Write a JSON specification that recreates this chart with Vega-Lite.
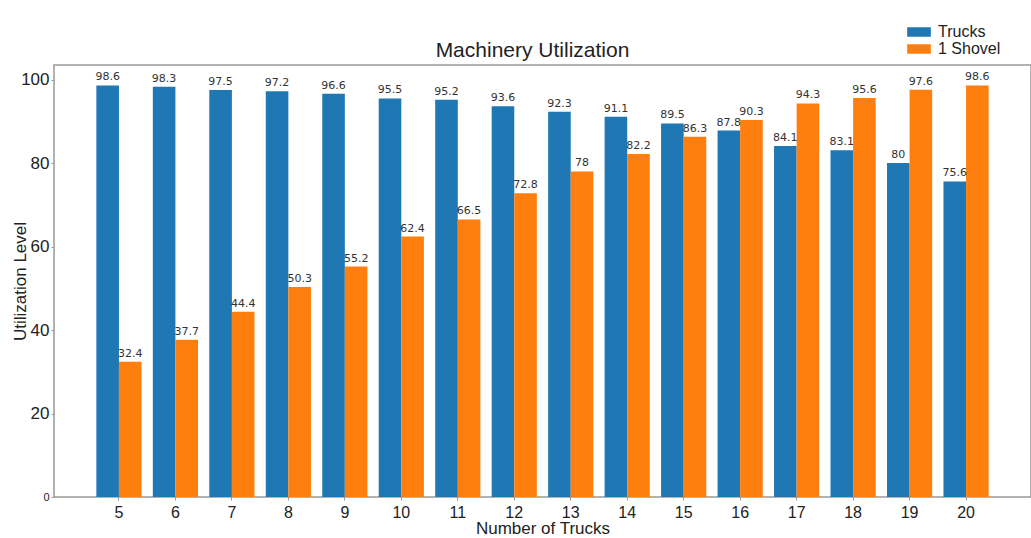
{
  "$schema": "https://vega.github.io/schema/vega-lite/v6.json",
  "width": 977,
  "height": 432,
  "autosize": {"type": "none"},
  "padding": {"left": 54, "top": 65, "right": 0, "bottom": 41},
  "background": "white",
  "title": {"text": "Machinery Utilization", "fontSize": 21, "font": "Liberation Sans", "fontWeight": "normal", "color": "#222", "frame": "group", "anchor": "middle", "dx": -10, "dy": 41},
  "config": {
    "view": {"stroke": "#999", "strokeWidth": 1.5},
    "font": "Liberation Sans"
  },
  "data": {"values": [
    {"trucks": 5, "series": "Trucks", "value": 98.6}, {"trucks": 5, "series": "1 Shovel", "value": 32.4},
    {"trucks": 6, "series": "Trucks", "value": 98.3}, {"trucks": 6, "series": "1 Shovel", "value": 37.7},
    {"trucks": 7, "series": "Trucks", "value": 97.5}, {"trucks": 7, "series": "1 Shovel", "value": 44.4},
    {"trucks": 8, "series": "Trucks", "value": 97.2}, {"trucks": 8, "series": "1 Shovel", "value": 50.3},
    {"trucks": 9, "series": "Trucks", "value": 96.6}, {"trucks": 9, "series": "1 Shovel", "value": 55.2},
    {"trucks": 10, "series": "Trucks", "value": 95.5}, {"trucks": 10, "series": "1 Shovel", "value": 62.4},
    {"trucks": 11, "series": "Trucks", "value": 95.2}, {"trucks": 11, "series": "1 Shovel", "value": 66.5},
    {"trucks": 12, "series": "Trucks", "value": 93.6}, {"trucks": 12, "series": "1 Shovel", "value": 72.8},
    {"trucks": 13, "series": "Trucks", "value": 92.3}, {"trucks": 13, "series": "1 Shovel", "value": 78},
    {"trucks": 14, "series": "Trucks", "value": 91.1}, {"trucks": 14, "series": "1 Shovel", "value": 82.2},
    {"trucks": 15, "series": "Trucks", "value": 89.5}, {"trucks": 15, "series": "1 Shovel", "value": 86.3},
    {"trucks": 16, "series": "Trucks", "value": 87.8}, {"trucks": 16, "series": "1 Shovel", "value": 90.3},
    {"trucks": 17, "series": "Trucks", "value": 84.1}, {"trucks": 17, "series": "1 Shovel", "value": 94.3},
    {"trucks": 18, "series": "Trucks", "value": 83.1}, {"trucks": 18, "series": "1 Shovel", "value": 95.6},
    {"trucks": 19, "series": "Trucks", "value": 80}, {"trucks": 19, "series": "1 Shovel", "value": 97.6},
    {"trucks": 20, "series": "Trucks", "value": 75.6}, {"trucks": 20, "series": "1 Shovel", "value": 98.6}
  ]},
  "encoding": {
    "x": {
      "field": "trucks", "type": "ordinal",
      "scale": {"paddingInner": 0.2, "paddingOuter": 0.75},
      "axis": {"title": "Number of Trucks", "labelAngle": 0, "labelFontSize": 16, "labelColor": "#222", "titleFontSize": 17, "titleFontWeight": "normal", "titleColor": "#222", "titlePadding": 0, "labelPadding": 4, "tickSize": 3, "tickColor": "#999", "domain": false, "grid": false}
    },
    "xOffset": {"field": "series", "type": "nominal", "scale": {"domain": ["Trucks", "1 Shovel"], "paddingInner": 0, "paddingOuter": 0}},
    "y": {
      "field": "value", "type": "quantitative",
      "scale": {"domain": [0, 103.5], "nice": false},
      "axis": {"title": "Utilization Level", "titleX": -34, "titleY": 216, "titleBaseline": "middle", "titleAlign": "center", "values": [0, 20, 40, 60, 80, 100], "labelFontSize": {"condition": {"test": "datum.value == 0", "value": 11}, "value": 17}, "labelColor": "#222", "titleFontSize": 17, "titleFontWeight": "normal", "titleColor": "#222", "tickSize": 3, "tickColor": "#999", "domain": false, "grid": false}
    }
  },
  "layer": [
    {
      "mark": {"type": "bar"},
      "encoding": {
        "color": {
          "field": "series", "type": "nominal",
          "scale": {"domain": ["Trucks", "1 Shovel"], "range": ["#1f77b4", "#ff7f0e"]},
          "legend": {"title": null, "orient": "none", "legendX": 857, "legendY": -41, "labelFontSize": 16, "labelColor": "#222", "symbolType": "M-2,-0.8H2V0.8H-2Z", "symbolSize": 140, "symbolStrokeWidth": 0, "rowPadding": 1, "labelOffset": 11}
        }
      }
    },
    {
      "mark": {"type": "text", "baseline": "bottom", "dy": -3, "fontSize": 11, "font": "DejaVu Sans", "color": "#333"},
      "encoding": {"text": {"field": "value", "type": "quantitative"}}
    }
  ]
}
